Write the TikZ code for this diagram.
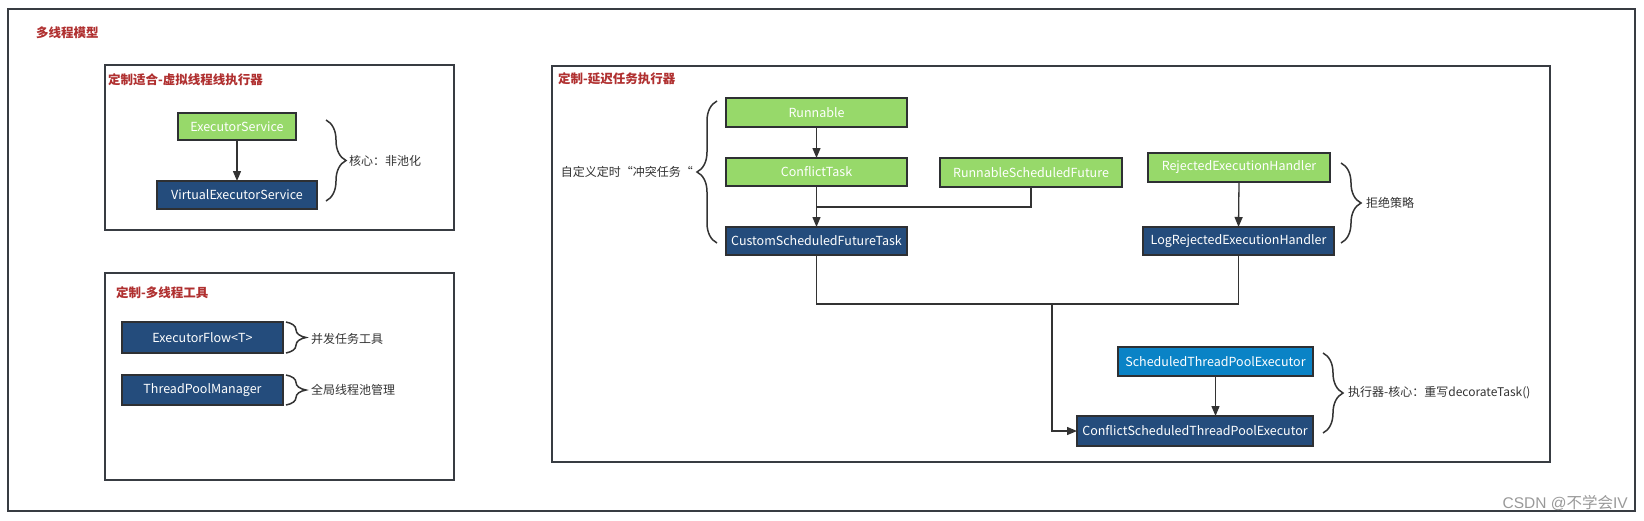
\documentclass[tikz,border=0pt]{standalone}
\usepackage{fontspec}
\setmainfont{Noto Sans CJK SC}
\newfontfamily\wmfont{Liberation Sans}
\usetikzlibrary{arrows.meta,decorations.pathreplacing,calc}
\definecolor{grn}{HTML}{97D96A}
\definecolor{dblue}{HTML}{244C7C}
\definecolor{lblue}{HTML}{0A83C6}
\definecolor{bord}{HTML}{2E3033}
\definecolor{frm}{HTML}{383C42}
\definecolor{ttl}{HTML}{B03030}
\definecolor{lin}{HTML}{333333}
\definecolor{lbl}{HTML}{333333}
\begin{document}
\begin{tikzpicture}[x=1pt,y=-1pt,
  box/.style={draw=bord,line width=1.5pt,text=white,inner sep=0pt,outer sep=0pt,
    font=\fontsize{12.5}{14}\selectfont},
  gbox/.style={box,fill=grn},
  bbox/.style={box,fill=dblue},
  cbox/.style={box,fill=lblue},
  frame/.style={draw=frm,line width=1.5pt,inner sep=0pt,outer sep=0pt},
  title/.style={text=ttl,font=\fontsize{12.5}{14}\selectfont\bfseries,anchor=west,inner sep=0pt},
  lab/.style={text=lbl,font=\fontsize{12}{14}\selectfont,anchor=west,inner sep=0pt},
  brc/.style={draw=lin,line width=1.5pt,decorate,decoration={brace,amplitude=20pt}},
  conn/.style={draw=lin,line width=1.3pt},
  arr/.style={conn,-{Triangle[length=10pt,width=8pt]}}]
\useasboundingbox (0,0) rectangle (1644,520);
\fill[white] (0,0) rectangle (1644,520);
% frames
\node[frame,minimum width=1627pt,minimum height=502pt] (outer) at (821.5,260) {};
\node[frame,minimum width=349pt,minimum height=165pt] (f1) at (279.5,147.5) {};
\node[frame,minimum width=349pt,minimum height=207pt] (f2) at (279.5,376.5) {};
\node[frame,minimum width=998pt,minimum height=396pt] (f3) at (1051,264) {};
% titles
\node[title] (t0) at (36,33) {多线程模型};
\node[title] (t1) at (108,80) {定制适合-虚拟线程线执行器};
\node[title] (t2) at (116,293) {定制-多线程工具};
\node[title] (t3) at (558,79) {定制-延迟任务执行器};
% box 1
\node[gbox,minimum width=118pt,minimum height=27pt] (es) at (237,126.5) {ExecutorService};
\node[bbox,minimum width=160pt,minimum height=28pt] (ves) at (237,195) {VirtualExecutorService};
\draw[arr] (es.south) -- (ves.north);
\draw[brc] (326,120) -- (326,201);
\node[lab] (l1) at (349,161) {核心：非池化};
% box 2
\node[bbox,minimum width=161pt,minimum height=31pt] (ef) at (202.5,337.5) {ExecutorFlow<T>};
\node[bbox,minimum width=161pt,minimum height=30pt] (tpm) at (202.5,390) {ThreadPoolManager};
\draw[brc] (286,322) -- (286,353);
\node[lab] (l2) at (311,339) {并发任务工具};
\draw[brc] (286,375) -- (286,405);
\node[lab] (l3) at (311,390) {全局线程池管理};
% box 3
\node[gbox,minimum width=181pt,minimum height=29pt] (run) at (816.5,112.5) {Runnable};
\node[gbox,minimum width=181pt,minimum height=28pt] (ct) at (816.5,172) {ConflictTask};
\node[bbox,minimum width=181pt,minimum height=28pt] (csft) at (816.5,241) {CustomScheduledFutureTask};
\node[gbox,minimum width=182pt,minimum height=29pt] (rsf) at (1031,172.5) {RunnableScheduledFuture};
\node[gbox,minimum width=182pt,minimum height=29pt] (reh) at (1239,167.5) {RejectedExecutionHandler};
\node[bbox,minimum width=191pt,minimum height=28pt] (lreh) at (1238.5,241) {LogRejectedExecutionHandler};
\node[cbox,minimum width=195pt,minimum height=29pt] (stpe) at (1215.5,361.5) {ScheduledThreadPoolExecutor};
\node[bbox,minimum width=236pt,minimum height=30pt] (cstpe) at (1195,431) {ConflictScheduledThreadPoolExecutor};
\coordinate (j1) at (816.5,207);
\coordinate (j2) at (1052,304);
\draw[arr] (run.south) -- (ct.north);
\draw[arr] (ct.south) -- (csft.north);
\draw[conn] (rsf.south) |- (j1);
\draw[arr] (reh.south) -- (lreh.north);
\draw[arr] (csft.south) |- (j2) |- (cstpe.west);
\draw[conn] (lreh.south) |- (j2);
\draw[arr] (stpe.south) -- (stpe.south |- cstpe.north);
\draw[brc] (717,243) -- (717,101);
\node[lab,anchor=east] (l4) at (693,172) {自定义定时“冲突任务“};
\draw[brc] (1341,163) -- (1341,243);
\node[lab] (l5) at (1366,203) {拒绝策略};
\draw[brc] (1323,353) -- (1323,433);
\node[lab] (l6) at (1348,393) {执行器-核心：重写decorateTask()};
% watermark
\node[text=black!40,font=\fontsize{15.5}{17}\selectfont,anchor=east,inner sep=0pt] (wm) at (1628,502.5) {{\wmfont CSDN @}不学会{\wmfont IV}};
\end{tikzpicture}
\end{document}
